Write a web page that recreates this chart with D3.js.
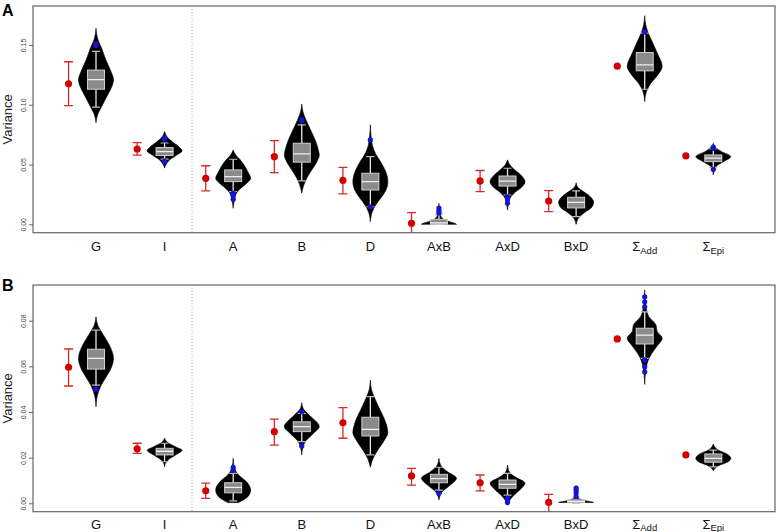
<!DOCTYPE html>
<html><head><meta charset="utf-8">
<script src="https://cdn.jsdelivr.net/npm/d3@7"></script>
<style>body{margin:0;background:#fff}svg{display:block}text{font-family:"Liberation Sans",Arial,sans-serif}</style>
</head><body><svg id="c" width="777" height="532"></svg>
<script>
// ---------- DATA ----------
const catMain = ["G","I","A","B","D","AxB","AxD","BxD","\u03A3","\u03A3"];
const catSub  = ["","","","","","","","","Add","Epi"];
const separatorPos = 1.4;

// Panel A – point estimates with error bars (red)
const estA = [0.1175,0.063,0.0385,0.0566,0.0368,0.0008,0.0363,0.0195,0.1323,0.0572];
const loA  = [0.0993,0.0578,0.0279,0.0432,0.0254,-0.009,0.0273,0.0106,null,null];
const hiA  = [0.136,0.0683,0.049,0.070,0.0477,0.0097,0.045,0.0281,null,null];
// Panel A – box plots
const q1A  = [0.113,0.0575,0.0357,0.052,0.0287,0.0,0.032,0.0137,0.1284,0.0524];
const medA = [0.121,0.0608,0.0399,0.0589,0.0357,0.0012,0.0362,0.0184,0.1334,0.0553];
const q3A  = [0.129,0.0642,0.0455,0.0678,0.0427,0.0042,0.0404,0.0226,0.1437,0.058];
const wloA = [0.098,0.0545,0.0273,0.0363,0.0147,0.0,0.0245,0.0064,0.113,0.0477];
const whiA = [0.1446,0.068,0.0544,0.0832,0.0566,0.0085,0.0469,0.028,0.160,0.063];
const outA = [[0.1495,0.151],[0.0712,0.0725,0.052,0.0528],[0.0262,0.024,0.021],[0.0865,0.0875],[0.0706,0.0147],[0.0095,0.0115,0.0136],[0.023,0.0205,0.0176],[],[0.1608],[0.0636,0.0645,0.046]];
// Panel A – violin outlines: [value, relative half-width]
const violinA = [
 [[0.164,0],[0.155,0.1],[0.147,0.33],[0.138,0.55],[0.128,0.85],[0.121,1],[0.115,0.9],[0.107,0.62],[0.099,0.34],[0.092,0.1],[0.085,0]],
 [[0.0776,0],[0.073,0.15],[0.069,0.45],[0.065,0.8],[0.0614,1],[0.058,0.7],[0.054,0.3],[0.05,0.08],[0.047,0]],
 [[0.0622,0],[0.058,0.15],[0.054,0.4],[0.049,0.65],[0.0435,0.85],[0.0385,1],[0.034,0.75],[0.029,0.35],[0.024,0.12],[0.019,0.05],[0.0134,0]],
 [[0.1007,0],[0.094,0.07],[0.087,0.25],[0.079,0.5],[0.07,0.78],[0.062,0.95],[0.058,1],[0.052,0.85],[0.045,0.55],[0.039,0.3],[0.033,0.12],[0.029,0.04],[0.026,0]],
 [[0.0832,0],[0.074,0.04],[0.066,0.12],[0.059,0.3],[0.052,0.6],[0.045,0.85],[0.0357,1],[0.029,0.9],[0.022,0.6],[0.016,0.3],[0.01,0.1],[0.0022,0]],
 [[0.0176,0],[0.011,0.04],[0.0065,0.12],[0.004,0.3],[0.0022,0.6],[0.0008,0.9],[0.0,1]],
 [[0.0539,0],[0.05,0.12],[0.046,0.38],[0.042,0.7],[0.0357,1],[0.031,0.8],[0.027,0.45],[0.022,0.15],[0.017,0.05],[0.012,0]],
 [[0.0348,0],[0.031,0.1],[0.028,0.35],[0.0245,0.7],[0.0184,1],[0.014,0.88],[0.01,0.5],[0.006,0.18],[0.0,0]],
 [[0.1745,0],[0.167,0.06],[0.16,0.2],[0.152,0.45],[0.143,0.72],[0.132,1],[0.125,0.75],[0.118,0.35],[0.111,0.1],[0.1027,0]],
 [[0.0678,0],[0.064,0.15],[0.061,0.45],[0.0566,1],[0.053,0.65],[0.049,0.2],[0.045,0.05],[0.0413,0]]
];
const ticksA = [0,0.05,0.10,0.15];

// Panel B
const estB = [0.0596,0.0239,0.0055,0.0314,0.0353,0.012,0.009,0.0004,0.072,0.0212];
const loB  = [0.0514,0.0219,0.0022,0.0255,0.0285,0.008,0.0054,-0.005,null,null];
const hiB  = [0.0676,0.0263,0.0088,0.0369,0.0419,0.0153,0.0124,0.0039,null,null];
const q1B  = [0.0588,0.0212,0.0046,0.0314,0.0295,0.009,0.0066,0.0002,0.0698,0.018];
const medB = [0.0635,0.0228,0.007,0.0336,0.0324,0.0108,0.0083,0.0008,0.0737,0.0197];
const q3B  = [0.0675,0.0241,0.009,0.0357,0.0377,0.0127,0.0102,0.0015,0.0767,0.0216];
const wloB = [0.0518,0.0182,0.0011,0.027,0.0212,0.0058,0.0036,0.0,0.0635,0.016];
const whiB = [0.0759,0.0263,0.0131,0.0394,0.0467,0.0158,0.0131,0.0024,0.0839,0.0233];
const outB = [[0.05],[],[0.0158,0.0146],[0.0401,0.0251],[],[0.0044],[0.0023,0.0013,0.0003],[0.0029,0.0045,0.0057,0.0067],[0.0905,0.0883,0.0861,0.0628,0.0598,0.0576],[]];
const violinB = [
 [[0.0817,0],[0.078,0.1],[0.074,0.4],[0.0695,0.75],[0.0635,1],[0.059,0.85],[0.055,0.55],[0.051,0.25],[0.047,0.07],[0.0423,0]],
 [[0.0285,0],[0.0265,0.2],[0.0245,0.7],[0.0233,1],[0.021,0.6],[0.019,0.2],[0.0175,0.05],[0.016,0]],
 [[0.0197,0],[0.016,0.05],[0.0125,0.3],[0.0095,0.75],[0.0058,1],[0.003,0.85],[0.0003,0.3]],
 [[0.0441,0],[0.0415,0.08],[0.0385,0.45],[0.0336,1],[0.0305,0.65],[0.0275,0.25],[0.024,0.05],[0.0212,0]],
 [[0.054,0],[0.05,0.06],[0.046,0.25],[0.041,0.55],[0.036,0.85],[0.031,1],[0.027,0.75],[0.023,0.4],[0.019,0.12],[0.0158,0]],
 [[0.0197,0],[0.017,0.08],[0.014,0.45],[0.011,1],[0.008,0.65],[0.005,0.18],[0.0015,0]],
 [[0.0168,0],[0.0135,0.12],[0.0115,0.45],[0.0088,1],[0.0065,0.78],[0.003,0.3],[0.0,0]],
 [[0.0077,0],[0.004,0.04],[0.0022,0.15],[0.0012,0.5],[0.0004,1]],
 [[0.0935,0],[0.087,0.06],[0.082,0.22],[0.078,0.65],[0.0755,0.7],[0.0723,1],[0.069,0.72],[0.065,0.35],[0.06,0.1],[0.0521,0]],
 [[0.026,0],[0.0235,0.25],[0.0215,0.8],[0.0197,1],[0.018,0.8],[0.0165,0.3],[0.0143,0]]
];
const ticksB = [0,0.02,0.04,0.06,0.08];

// ---------- DRAW ----------
const svg = d3.select("#c");
const x = d3.scaleLinear().domain([0,9]).range([96,713.3]);
const wS = d3.scaleLinear().domain([0,1]).range([0,17.5]);
const boxHalf = 8.5, capHalf = 4, redOff = -0.4;

const panels = [
 {id:"A", top:6, bottom:232.7, y:d3.scaleLinear().domain([0,0.15]).range([224.3,45]), ticks:ticksA,
  est:estA, lo:loA, hi:hiA, q1:q1A, med:medA, q3:q3A, wlo:wloA, whi:whiA, out:outA, vio:violinA, labelY:251, letterY:16},
 {id:"B", top:285, bottom:511.7, y:d3.scaleLinear().domain([0,0.08]).range([503.3,320.7]), ticks:ticksB,
  est:estB, lo:loB, hi:hiB, q1:q1B, med:medB, q3:q3B, wlo:wloB, whi:whiB, out:outB, vio:violinB, labelY:528.5, letterY:291}
];
const left = 33, right = 775;

panels.forEach(p => {
  const y = p.y;
  const g = svg.append("g");
  svg.append("clipPath").attr("id","clip"+p.id).append("rect")
    .attr("x",left).attr("y",p.top).attr("width",right-left).attr("height",p.bottom-p.top);
  const pg = g.append("g").attr("clip-path","url(#clip"+p.id+")");

  // separator
  pg.append("line").attr("x1",x(separatorPos)).attr("x2",x(separatorPos))
    .attr("y1",p.top).attr("y2",p.bottom).attr("stroke","#999").attr("stroke-width",0.8).attr("stroke-dasharray","1,2");

  // violins
  p.vio.forEach((prof,i) => {
    const cx = x(i);
    const area = d3.area().curve(d3.curveMonotoneY)
      .y(d => y(d[0])).x0(d => cx - wS(d[1])).x1(d => cx + wS(d[1]));
    pg.append("path").attr("d", area(prof)).attr("fill","#000").attr("stroke","#000").attr("stroke-width",0.6);
  });
  // whiskers + boxes
  catMain.forEach((c,i) => {
    const cx = x(i);
    const wcol = "#e6e6e6";
    pg.append("line").attr("x1",cx).attr("x2",cx).attr("y1",y(p.whi[i])).attr("y2",y(p.q3[i])).attr("stroke",wcol).attr("stroke-width",1.3);
    pg.append("line").attr("x1",cx).attr("x2",cx).attr("y1",y(p.q1[i])).attr("y2",y(p.wlo[i])).attr("stroke",wcol).attr("stroke-width",1.3);
    [p.whi[i],p.wlo[i]].forEach(v => pg.append("line").attr("x1",cx-capHalf).attr("x2",cx+capHalf)
      .attr("y1",y(v)).attr("y2",y(v)).attr("stroke","#bbb").attr("stroke-width",1.2));
    pg.append("rect").attr("x",cx-boxHalf).attr("width",2*boxHalf)
      .attr("y",y(p.q3[i])).attr("height",Math.max(1.5,y(p.q1[i])-y(p.q3[i])))
      .attr("fill","#8a8a8a").attr("stroke","#d0d0d0").attr("stroke-width",1);
    pg.append("line").attr("x1",cx-boxHalf).attr("x2",cx+boxHalf).attr("y1",y(p.med[i])).attr("y2",y(p.med[i]))
      .attr("stroke","#f0f0f0").attr("stroke-width",1.3);
    p.out[i].forEach(v => pg.append("circle").attr("cx",cx).attr("cy",y(v)).attr("r",2.6).attr("fill","#1414d2"));
  });
  // red estimates
  catMain.forEach((c,i) => {
    const rx = x(i+redOff);
    if (p.lo[i] !== null) {
      const col = "#d42a2a";
      pg.append("line").attr("x1",rx).attr("x2",rx).attr("y1",y(p.hi[i])).attr("y2",y(p.lo[i])).attr("stroke",col).attr("stroke-width",1.3);
      [p.hi[i],p.lo[i]].forEach(v => pg.append("line").attr("x1",rx-4.5).attr("x2",rx+4.5)
        .attr("y1",y(v)).attr("y2",y(v)).attr("stroke",col).attr("stroke-width",1.3));
    }
    pg.append("circle").attr("cx",rx).attr("cy",y(p.est[i])).attr("r",3.6).attr("fill","#d40000");
  });

  // frame
  g.append("rect").attr("x",left).attr("y",p.top).attr("width",right-left).attr("height",p.bottom-p.top)
    .attr("fill","none").attr("stroke","#666").attr("stroke-width",1.2);

  // y axis
  const ax = g.append("g").attr("transform","translate("+left+",0)")
    .call(d3.axisLeft(y).tickValues(p.ticks).tickSize(4).tickFormat(d3.format(".2f")));
  ax.select(".domain").remove();
  ax.selectAll("line").attr("stroke","#666");
  ax.selectAll("text").attr("transform","rotate(-90)").attr("x",0).attr("y",-7.5).attr("dy",0)
    .style("text-anchor","middle").attr("font-size",7).attr("fill","#444");

  // y label
  g.append("text").attr("transform","translate(12,"+((p.top+p.bottom)/2)+") rotate(-90)")
    .attr("text-anchor","middle").attr("font-size",13).attr("fill","#222").text("Variance");

  // x labels
  catMain.forEach((c,i) => {
    const t = g.append("text").attr("x",x(i)).attr("y",p.labelY).attr("text-anchor","middle")
      .attr("font-size",13).attr("fill","#111");
    t.append("tspan").text(c);
    if (catSub[i]) t.append("tspan").attr("dy",2.5).attr("font-size",9.5).text(catSub[i]);
  });

  // panel letter
  g.append("text").attr("x",2).attr("y",p.letterY).attr("font-size",16).attr("font-weight","bold")
    .attr("fill","#000").text(p.id);
});
</script></body></html>
